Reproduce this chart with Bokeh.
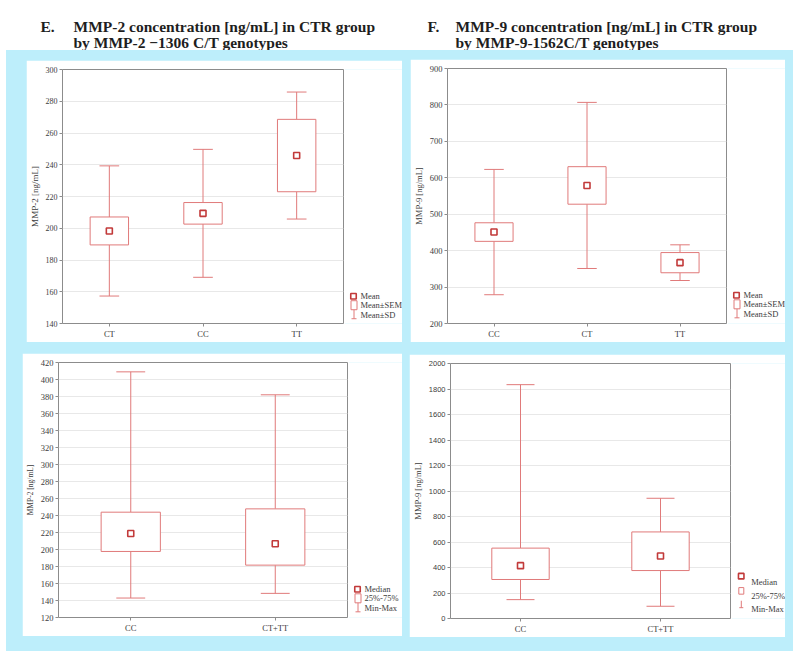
from bokeh.plotting import figure
from bokeh.embed import file_html
from bokeh.resources import INLINE
from bokeh.layouts import column, row
from bokeh.models import Range1d, FactorRange, FixedTicker, ColumnDataSource
from bokeh.transform import dodge
from bokeh.core.properties import value

# ---------------- data ----------------
panel_letters = ["E.", "F."]
title_e = ["MMP-2 concentration [ng/mL] in CTR group", "by MMP-2 \u22121306 C/T genotypes"]
title_f = ["MMP-9 concentration [ng/mL] in CTR group", "by MMP-9-1562C/T genotypes"]

mmp2_genotypes = ["CT", "CC", "TT"]
mmp2_mean = [198.3, 209.4, 245.8]
mmp2_sem = [8.8, 6.8, 22.8]
mmp2_sd = [41.0, 40.3, 40.0]

mmp9_genotypes = ["CC", "CT", "TT"]
mmp9_mean = [451.0, 579.0, 367.0]
mmp9_sem = [25.5, 51.5, 27.7]
mmp9_sd = [172.0, 228.0, 49.0]

groups = ["CC", "CT+TT"]
mmp2_median = [218.8, 206.7]
mmp2_q1 = [197.7, 181.6]
mmp2_q3 = [243.9, 247.8]
mmp2_min = [142.9, 148.4]
mmp2_max = [409.0, 382.0]

mmp9_median = [414.5, 490.0]
mmp9_q1 = [306.0, 376.0]
mmp9_q3 = [552.0, 679.0]
mmp9_min = [148.0, 96.0]
mmp9_max = [1834.0, 943.0]

mean_legend = ["Mean", "Mean\u00b1SEM", "Mean\u00b1SD"]
median_legend = ["Median", "25%-75%", "Min-Max"]

# ---------------- styles ----------------
BLUE = "#bdeefb"
BOX = "#e07a7a"
MARK = "#c23a3a"
FRAME = "#8c8c8c"
GRID = "#e8e8e8"
TXT = "#3c3c3c"
SERIF = "Liberation Serif"
SANS = "Liberation Sans"


def bare_figure(width, height, x_range, y_range):
    f = figure(width=width, height=height, x_range=x_range, y_range=y_range,
               min_border=0, toolbar_location=None, output_backend="svg",
               x_axis_location=None, y_axis_location=None, outline_line_color=None,
               background_fill_color="white", border_fill_color="white")
    f.xgrid.visible = False
    f.ygrid.visible = False
    return f


def make_panel(cats, mid, lo, hi, wlo, whi, yr, ylabel, size, borders,
               tick_font, tick_size, ylabel_size, box_w=0.41, cap_w=0.21):
    width, height = size
    left, right, top, bottom = borders
    ticker = FixedTicker(ticks=list(range(yr[0], yr[1] + 1, yr[2])))
    p = figure(x_range=FactorRange(factors=cats), y_range=Range1d(yr[0], yr[1]),
               width=width, height=height, toolbar_location=None, output_backend="svg",
               min_border_left=left, min_border_right=right,
               min_border_top=top, min_border_bottom=bottom,
               background_fill_color="white", border_fill_color="white")
    p.outline_line_color = FRAME
    p.outline_line_width = 1
    p.xgrid.visible = False
    p.yaxis.ticker = ticker
    p.ygrid.ticker = ticker
    p.ygrid.grid_line_color = GRID

    p.axis.axis_line_color = None
    p.axis.major_tick_line_color = FRAME
    p.axis.major_tick_out = 3
    p.axis.major_tick_in = 0
    p.axis.minor_tick_line_color = None
    p.axis.major_label_text_color = TXT
    p.axis.major_label_standoff = 2
    p.yaxis.major_label_text_font = tick_font
    p.yaxis.major_label_text_font_size = tick_size
    p.xaxis.major_label_text_font = SERIF
    p.xaxis.major_label_text_font_size = "8.5px"
    p.yaxis.axis_label = ylabel
    p.yaxis.axis_label_text_font = SERIF
    p.yaxis.axis_label_text_font_style = "normal"
    p.yaxis.axis_label_text_font_size = ylabel_size
    p.yaxis.axis_label_text_color = TXT
    p.yaxis.axis_label_standoff = 3

    src = ColumnDataSource(dict(cat=cats, mid=mid, lo=lo, hi=hi, wlo=wlo, whi=whi))
    p.segment(x0="cat", y0="hi", x1="cat", y1="whi", source=src, line_color=BOX, line_width=1)
    p.segment(x0="cat", y0="lo", x1="cat", y1="wlo", source=src, line_color=BOX, line_width=1)
    for col in ("whi", "wlo"):
        p.segment(x0=dodge("cat", -cap_w / 2, range=p.x_range), y0=col,
                  x1=dodge("cat", cap_w / 2, range=p.x_range), y1=col,
                  source=src, line_color=BOX, line_width=1)
    p.vbar(x="cat", bottom="lo", top="hi", width=box_w, source=src,
           fill_color="white", line_color=BOX, line_width=1)
    p.scatter(x="cat", y="mid", source=src, marker="square", size=6,
              fill_color="white", line_color=MARK, line_width=1.6)
    return p


def make_legend(width, height, bottom, labels, lay):
    """Key strip to the right of a plot frame; x=0 is the frame's right edge and
    y=0 its bottom edge (units are pixels). It starts one pixel early so that it
    overlaps the plot canvas and leaves no seam."""
    mx, my, bx0, bx1, by0, by1, wx, wy0, wy1, tx, tys = lay
    f = bare_figure(width + 1, height, Range1d(-3, width - 2),
                    Range1d(-bottom, height - bottom))
    f.segment(x0=[wx, bx0 + 0.5], y0=[wy0, wy1], x1=[wx, bx1 - 0.5], y1=[wy1, wy1],
              line_color=BOX, line_width=1)
    f.quad(left=[bx0], right=[bx1], bottom=[by0], top=[by1],
           fill_color="white", line_color=BOX, line_width=1)
    f.scatter(x=[mx], y=[my], marker="square", size=5.5,
              fill_color="white", line_color=MARK, line_width=1.6)
    f.text(x=[tx] * len(labels), y=tys, text=labels, text_font=value(SERIF),
           text_font_size="8.5px", text_color=TXT, text_baseline="middle", text_align="left")
    return f


# key geometry: marker x,y ; box x0,x1,y0,y1 ; whisker x, y0, y1 ; text x, text ys
lay_std = (6, 12.3, 3.5, 9.5, -2.7, 7.3, 6.5, -2.7, -12.7, 13, [12.3, 2.3, -8.5])
lay_wide = (6.7, 28, 4.3, 9.3, 8, 15.3, 6.8, 0.7, -7, 16.7, [22, 6, -8.7])

# ---------------- panels ----------------
m2_lo = [m - s for m, s in zip(mmp2_mean, mmp2_sem)]
m2_hi = [m + s for m, s in zip(mmp2_mean, mmp2_sem)]
m2_wlo = [m - s for m, s in zip(mmp2_mean, mmp2_sd)]
m2_whi = [m + s for m, s in zip(mmp2_mean, mmp2_sd)]
p1 = make_panel(mmp2_genotypes, mmp2_mean, m2_lo, m2_hi, m2_wlo, m2_whi, (140, 300, 20),
                "MMP-2 [ng/mL]", (319, 282), (34, 2, 9, 18), SERIF, "8px", "9px")
k1 = make_legend(57, 282, 18, mean_legend, lay_std)

m9_lo = [m - s for m, s in zip(mmp9_mean, mmp9_sem)]
m9_hi = [m + s for m, s in zip(mmp9_mean, mmp9_sem)]
m9_wlo = [m - s for m, s in zip(mmp9_mean, mmp9_sd)]
m9_whi = [m + s for m, s in zip(mmp9_mean, mmp9_sd)]
p2 = make_panel(mmp9_genotypes, mmp9_mean, m9_lo, m9_hi, m9_wlo, m9_whi, (200, 900, 100),
                "MMP-9 [ng/mL]", (318, 283), (34, 2, 9, 19), SERIF, "8.5px", "8.5px")
k2 = make_legend(57, 283, 19, mean_legend, lay_std)

p3 = make_panel(groups, mmp2_median, mmp2_q1, mmp2_q3, mmp2_min, mmp2_max, (120, 420, 20),
                "MMP-2 [ng/mL]", (327, 283), (35, 2, 9, 19), SERIF, "8.5px", "7.5px",
                box_w=0.41, cap_w=0.2)
k3 = make_legend(53, 283, 19, median_legend, lay_std)

p4 = make_panel(groups, mmp9_median, mmp9_q1, mmp9_q3, mmp9_min, mmp9_max, (0, 2000, 200),
                "MMP-9 [ng/mL]", (323, 283), (41, 2, 7, 19), SANS, "7.5px", "8.5px",
                box_w=0.41, cap_w=0.2)
k4 = make_legend(53, 283, 19, median_legend, lay_wide)

p1.margin = (10, 0, 0, 20)
k1.margin = (10, 0, 0, -1)
p2.margin = (9, 0, 0, 8)
k2.margin = (9, 0, 0, -1)
p3.margin = (11, 0, 0, 16)
k3.margin = (11, 0, 0, -1)
p4.margin = (12, 0, 0, 7)
k4.margin = (12, 0, 0, -1)

# ---------------- header with the two titles ----------------
head = bare_figure(799, 50, Range1d(0, 799), Range1d(50, 0))
head.text(x=[40, 73, 73, 427, 455, 455], y=[25.5, 25.5, 41.5, 25.5, 25.5, 41.5],
          text=[panel_letters[0], title_e[0], title_e[1], panel_letters[1], title_f[0], title_f[1]],
          text_font=value(SERIF), text_font_style="bold", text_font_size="15.5px",
          text_color="#1e1e1e", text_baseline="alphabetic", text_align="left")

body = column(row(p1, k1, p2, k2), row(p3, k3, p4, k4), width=787, height=601,
              margin=(0, 0, 0, 6), styles={"background-color": BLUE})
page = column(head, body)

open("out.html", "w").write(file_html(page, INLINE))
